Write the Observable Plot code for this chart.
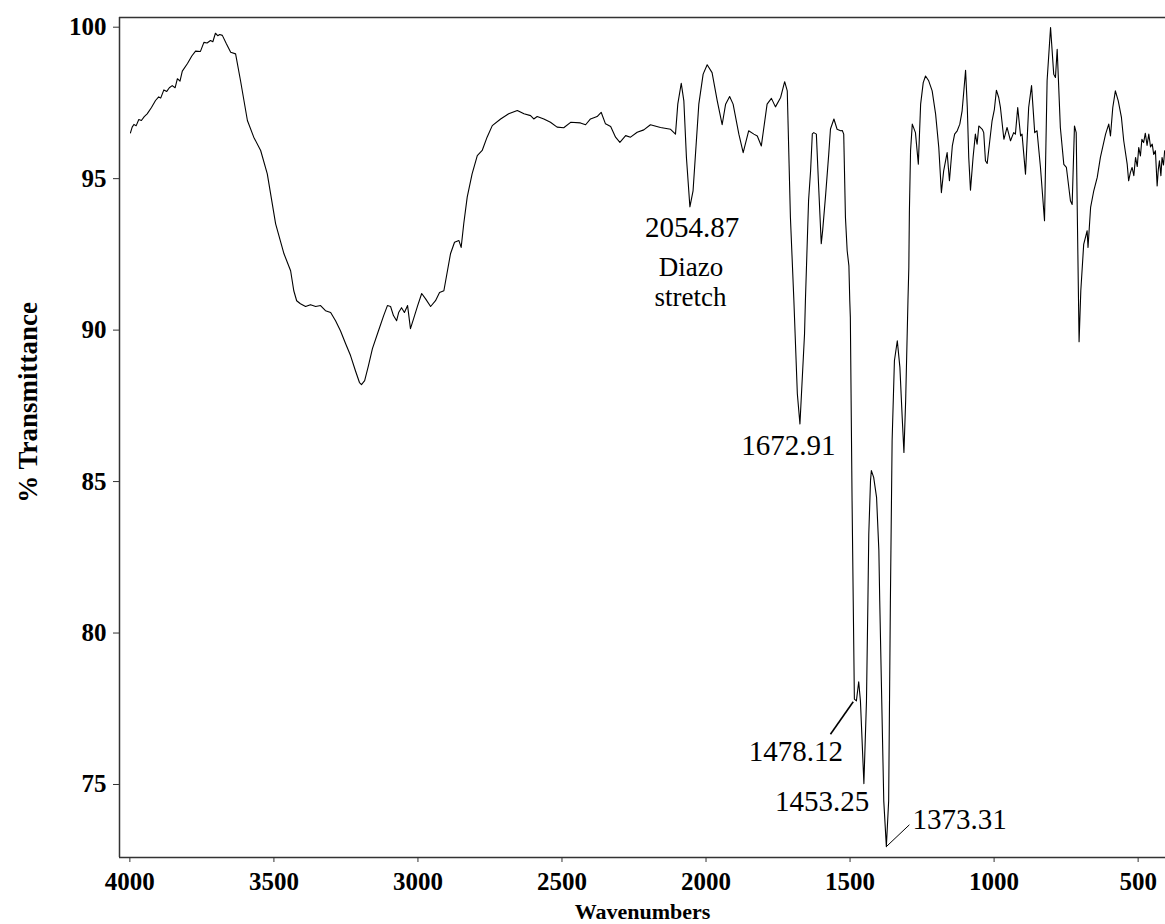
<!DOCTYPE html>
<html><head><meta charset="utf-8">
<script src="https://cdn.jsdelivr.net/npm/d3@7"></script>
<script src="https://cdn.jsdelivr.net/npm/@observablehq/plot@0.6"></script>
<style>
body{margin:0;background:#fff}
</style>
</head><body><div id="chart"></div>
<script>
const wavenumber = [3998,3992,3986,3978,3969,3960,3950,3940,3925,3911,3900,3893,3882,3872,3863,3853,3843,3835,3826,3818,3800,3785,3772,3755,3743,3732,3720,3712,3703,3695,3688,3679,3665,3650,3633,3616,3592,3570,3546,3523,3494,3465,3442,3431,3421,3408,3390,3373,3355,3338,3321,3303,3286,3269,3251,3234,3217,3203,3196,3185,3172,3158,3137,3119,3106,3095,3085,3074,3067,3057,3047,3036,3026,3015,3001,2987,2974,2956,2939,2925,2910,2887,2873,2858,2850,2841,2829,2812,2794,2777,2760,2742,2713,2685,2655,2632,2609,2598,2586,2563,2540,2517,2494,2470,2436,2418,2401,2378,2364,2349,2331,2314,2299,2279,2262,2239,2216,2193,2158,2123,2106,2098,2086,2077,2068,2056,2045,2025,2010,1996,1979,1961,1944,1932,1918,1906,1886,1871,1852,1834,1822,1808,1788,1773,1759,1741,1727,1718,1707,1695,1683,1674,1658,1655,1644,1637,1631,1626,1617,1610,1600,1595,1585,1574,1568,1556,1545,1533,1527,1522,1516,1510,1504,1501,1499,1493,1489,1485,1478,1470,1464,1452,1443,1438,1435,1429,1426,1418,1408,1400,1397,1383,1374,1366,1360,1354,1346,1336,1327,1319,1313,1307,1299,1296,1294,1290,1284,1273,1263,1255,1246,1238,1227,1215,1203,1192,1183,1175,1163,1155,1145,1137,1128,1119,1111,1105,1099,1093,1088,1082,1073,1065,1059,1053,1041,1036,1030,1024,1015,1007,999,992,984,978,966,955,943,932,926,918,908,903,891,880,870,859,851,839,825,816,804,793,787,781,770,758,749,735,729,721,715,705,699,689,677,674,665,654,642,631,613,602,596,588,579,569,558,550,538,533,527,521,515,509,503,498,492,487,481,475,469,463,457,451,446,440,434,430,426,421,417,412,408];
const transmittance = [96.51,96.70,96.79,96.75,96.95,96.92,97.05,97.14,97.35,97.58,97.70,97.66,97.93,97.88,98.00,98.07,98.00,98.30,98.22,98.55,98.80,99.05,99.21,99.20,99.50,99.48,99.56,99.52,99.80,99.72,99.76,99.73,99.45,99.17,99.12,98.24,96.92,96.37,95.93,95.16,93.51,92.52,91.96,91.30,90.97,90.87,90.78,90.84,90.78,90.81,90.64,90.58,90.31,89.98,89.55,89.16,88.66,88.27,88.20,88.33,88.82,89.39,89.98,90.48,90.81,90.78,90.48,90.31,90.58,90.74,90.58,90.81,90.05,90.38,90.81,91.21,91.04,90.78,90.97,91.24,91.30,92.52,92.90,92.96,92.73,93.51,94.39,95.16,95.76,95.93,96.37,96.75,96.97,97.14,97.25,97.14,97.08,96.97,97.05,96.97,96.86,96.70,96.68,96.86,96.84,96.78,96.97,97.05,97.19,96.81,96.72,96.37,96.20,96.42,96.37,96.53,96.61,96.78,96.69,96.63,96.47,97.46,98.15,97.57,95.70,94.07,94.60,97.46,98.45,98.76,98.50,97.57,96.78,97.46,97.71,97.46,96.47,95.86,96.58,96.47,96.41,96.08,97.46,97.65,97.37,97.68,98.20,97.90,93.72,90.97,87.90,86.90,89.88,90.97,94.28,95.26,96.48,96.52,96.47,94.94,92.85,93.30,94.44,95.81,96.64,96.97,96.63,96.58,96.59,96.47,93.72,92.62,92.12,90.97,90.42,84.37,81.07,77.82,77.76,78.39,77.76,75.03,77.76,81.07,83.27,85.03,85.36,85.14,84.48,82.72,81.07,74.46,72.95,74.46,81.07,86.35,88.99,89.65,88.77,87.12,85.96,87.67,90.97,92.06,93.94,95.92,96.80,96.52,95.48,97.46,98.17,98.39,98.23,97.90,97.13,96.03,94.54,95.26,95.86,94.93,96.08,96.47,96.58,96.80,97.24,97.90,98.58,97.35,95.70,94.62,95.70,96.47,96.14,96.74,96.63,96.52,95.59,95.50,96.25,96.91,97.29,97.92,97.68,97.35,96.30,96.69,96.25,96.52,96.47,97.35,96.41,96.47,95.15,97.35,98.07,96.52,96.58,95.37,93.61,98.23,99.99,98.45,98.34,99.27,96.69,95.47,95.37,94.27,94.15,96.74,96.52,89.62,91.30,92.83,93.28,92.73,94.05,94.60,95.04,95.70,96.47,96.80,96.41,97.35,97.90,97.57,97.02,96.25,95.48,94.93,95.20,95.37,95.10,95.70,95.40,96.03,95.75,96.30,96.19,96.50,96.10,96.47,96.05,96.14,95.80,95.92,94.76,95.30,95.59,95.10,95.70,95.45,95.92];

const xTicks = [4000, 3500, 3000, 2500, 2000, 1500, 1000, 500];
const yTicks = [75, 80, 85, 90, 95, 100];
const xDomain = [4036, 405];
const yDomain = [72.59, 100.32];

const peakLabels = ["2054.87", "1672.91", "1478.12", "1453.25", "1373.31"];
const peakLabelX = [2048, 1714, 1688, 1597, 1120];
const peakLabelY = [93.07, 85.89, 75.76, 74.13, 73.53];

const noteLines = ["Diazo", "stretch"];
const noteX = [2052, 2054];
const noteY = [91.77, 90.78];

const leaderX1 = [1568, 1374];
const leaderY1 = [76.66, 72.95];
const leaderX2 = [1489, 1294];
const leaderY2 = [77.73, 73.67];
const leaderWidth = [1.6, 1];

const xTitle = ["Wavenumbers"];
const yTitle = ["% Transmittance"];

const chart = Plot.plot({
  width: 1165,
  height: 924,
  marginTop: 17,
  marginBottom: 67,
  marginLeft: 119,
  marginRight: 0,
  style: {fontFamily: "'Liberation Serif','Times New Roman',Times,serif", fontWeight: "bold", background: "#fff", color: "#000"},
  x: {domain: xDomain},
  y: {domain: yDomain},
  marks: [
    Plot.ruleY([yDomain[1]], {stroke: "#333", strokeWidth: 1.5}),
    Plot.ruleY([yDomain[0]], {stroke: "#333", strokeWidth: 1.5}),
    Plot.ruleX([xDomain[0]], {stroke: "#333", strokeWidth: 1.5}),
    Plot.axisX({ticks: xTicks, tickSize: 5, tickPadding: 10, fontSize: 25, label: null, tickFormat: d3.format("d"), stroke: "#333"}),
    Plot.axisY({ticks: yTicks, tickSize: 6, tickPadding: 7, fontSize: 25, label: null, tickFormat: d3.format("d"), stroke: "#333"}),
    Plot.line(wavenumber, {x: wavenumber, y: transmittance, stroke: "#000", strokeWidth: 1.1}),
    Plot.text(peakLabels, {x: peakLabelX, y: peakLabelY, text: peakLabels, fontSize: 29, fontWeight: "normal", lineAnchor: "bottom", textAnchor: "middle", fill: "#000"}),
    Plot.text(noteLines, {x: noteX, y: noteY, text: noteLines, fontSize: 27, fontWeight: "normal", lineAnchor: "bottom", textAnchor: "middle", fill: "#000"}),
    Plot.link(leaderX1, {x1: leaderX1, y1: leaderY1, x2: leaderX2, y2: leaderY2, stroke: "#000", strokeWidth: leaderWidth}),
    Plot.text(xTitle, {frameAnchor: "bottom", text: d => d, dy: 61, fontSize: 22, fontWeight: "bold", textAnchor: "middle", lineAnchor: "bottom", fill: "#000"}),
    Plot.text(yTitle, {frameAnchor: "left", text: d => d, dx: -91, dy: -35, rotate: -90, fontSize: 27, fontWeight: "bold", textAnchor: "middle", lineAnchor: "middle", fill: "#000"})
  ]
});
document.getElementById("chart").appendChild(chart);
</script>
</body></html>
